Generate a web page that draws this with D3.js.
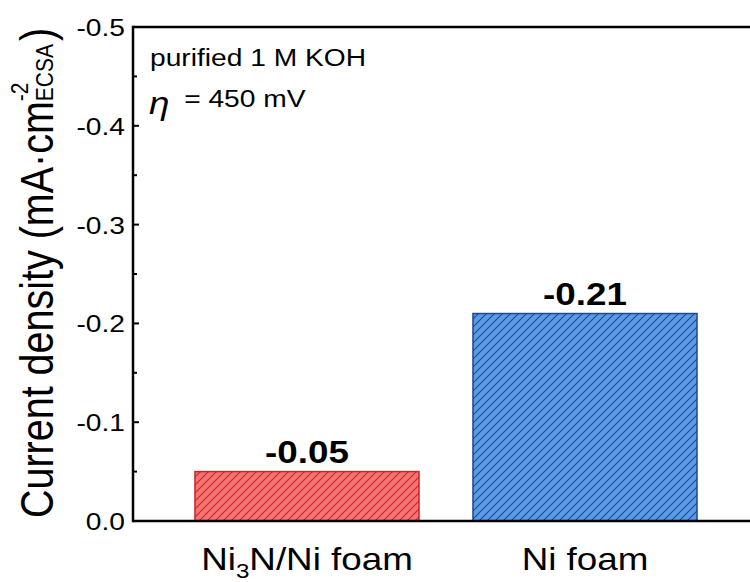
<!DOCTYPE html>
<html>
<head>
<meta charset="utf-8">
<script src="https://cdn.jsdelivr.net/npm/d3@7"></script>
<style>
  body { margin: 0; background: #fff; }
  text { font-family: "Liberation Sans", Arial, sans-serif; fill: #000; }
</style>
</head>
<body>
<script>
var categories = ["Ni3N/Ni foam", "Ni foam"];
var values = [-0.05, -0.21];
var valueLabels = ["-0.05", "-0.21"];
var yTicks = [0.0, -0.1, -0.2, -0.3, -0.4, -0.5];
var yMinorTicks = [-0.05, -0.15, -0.25, -0.35, -0.45];
var fillColors = ["#f27474", "#5b9ae6"];
var lineColors = ["#d02424", "#1b4a92"];

var width = 750, height = 582;
var sx = 1.15; // text in the source figure is stretched horizontally

var svg = d3.select("body").append("svg")
    .attr("width", width)
    .attr("height", height);

var plotLeft = 133, plotTop = 27, plotBottom = 521;

var y = d3.scaleLinear().domain([0, -0.5]).range([plotBottom, plotTop]);
var x = d3.scaleBand().domain(categories).range([168, 724])
    .paddingInner(0.194).paddingOuter(0.097);

// hatch patterns
var defs = svg.append("defs");
categories.forEach(function (c, i) {
    var p = defs.append("pattern")
        .attr("id", "hatch" + i)
        .attr("patternUnits", "userSpaceOnUse")
        .attr("width", 8).attr("height", 8);
    p.append("rect").attr("width", 8).attr("height", 8).attr("fill", fillColors[i]);
    p.append("path")
        .attr("d", "M0,8 L8,0 M-2,2 L2,-2 M6,10 L10,6")
        .attr("stroke", lineColors[i])
        .attr("stroke-width", 1.1);
});

// bars
svg.append("g").selectAll("rect")
    .data(values)
    .enter().append("rect")
    .attr("x", function (d, i) { return x(categories[i]); })
    .attr("y", function (d) { return y(d); })
    .attr("width", x.bandwidth())
    .attr("height", function (d) { return y(0) - y(d); })
    .attr("fill", function (d, i) { return "url(#hatch" + i + ")"; })
    .attr("stroke", function (d, i) { return lineColors[i]; })
    .attr("stroke-width", 1.5);

// value labels
svg.append("g").selectAll("text")
    .data(values)
    .enter().append("text")
    .attr("transform", function (d, i) {
        return "translate(" + (x(categories[i]) + x.bandwidth() / 2) + "," + (y(d) - 9) + ") scale(" + sx + ",1)";
    })
    .attr("text-anchor", "middle")
    .style("font-size", "32px")
    .style("font-weight", "bold")
    .text(function (d, i) { return valueLabels[i]; });

// frame lines
var frame = svg.append("g").attr("stroke", "#000").attr("stroke-width", 2.5);
frame.append("line").attr("x1", plotLeft).attr("x2", width).attr("y1", plotTop).attr("y2", plotTop);
frame.append("line").attr("x1", plotLeft).attr("x2", width).attr("y1", plotBottom).attr("y2", plotBottom);
frame.append("line").attr("x1", plotLeft).attr("x2", plotLeft).attr("y1", plotTop - 1.25).attr("y2", plotBottom + 1.25);

// y ticks (inward)
svg.append("g").selectAll("line")
    .data(yTicks)
    .enter().append("line")
    .attr("x1", plotLeft).attr("x2", plotLeft + 6)
    .attr("y1", function (d) { return y(d); })
    .attr("y2", function (d) { return y(d); })
    .attr("stroke", "#000").attr("stroke-width", 2);
svg.append("g").selectAll("line")
    .data(yMinorTicks)
    .enter().append("line")
    .attr("x1", plotLeft).attr("x2", plotLeft + 4)
    .attr("y1", function (d) { return y(d); })
    .attr("y2", function (d) { return y(d); })
    .attr("stroke", "#000").attr("stroke-width", 2);

svg.append("g").selectAll("text")
    .data(yTicks)
    .enter().append("text")
    .attr("transform", function (d) {
        return "translate(125," + (y(d) + 9) + ") scale(" + sx + ",1)";
    })
    .attr("text-anchor", "end")
    .style("font-size", "24.5px")
    .text(function (d) { return d3.format(".1f")(d).replace("\u2212", "-"); });

// x category labels
var xl = svg.append("g").selectAll("text")
    .data(categories)
    .enter().append("text")
    .attr("transform", function (d) {
        return "translate(" + (x(d) + x.bandwidth() / 2) + ",570) scale(" + sx + ",1)";
    })
    .attr("text-anchor", "middle")
    .style("font-size", "32px");
xl.each(function (d) {
    var t = d3.select(this);
    if (d.indexOf("Ni3N") === 0) {
        t.append("tspan").text("Ni");
        t.append("tspan").attr("dy", 8).style("font-size", "21px").text("3");
        t.append("tspan").attr("dy", -8).text("N/Ni foam");
    } else {
        t.text(d);
    }
});

// y axis title
var yt = svg.append("text")
    .attr("transform", "translate(53,518) scale(" + sx + ",1) rotate(-90)")
    .attr("text-anchor", "start")
    .style("font-size", "39.5px");
yt.append("tspan").text("Current density (mA\u00b7cm");
yt.append("tspan").attr("dy", -22).style("font-size", "21px").text("-2");
yt.append("tspan").attr("dx", -18.7).attr("dy", 22).style("font-size", "21px").text("ECSA");
yt.append("tspan").attr("dx", 3).text(")");

// annotation
svg.append("text")
    .attr("transform", "translate(150,66) scale(" + sx + ",1)")
    .style("font-size", "24.5px")
    .text("purified 1 M KOH");
var eta = svg.append("text")
    .attr("transform", "translate(149,107) scale(" + sx + ",1)")
    .style("font-size", "24.5px");
eta.append("tspan").attr("dy", 7).style("font-style", "italic").style("font-size", "32px").text("\u03b7");
eta.append("tspan").attr("dy", -7).attr("dx", 6).text(" = 450 mV");
</script>
</body>
</html>
